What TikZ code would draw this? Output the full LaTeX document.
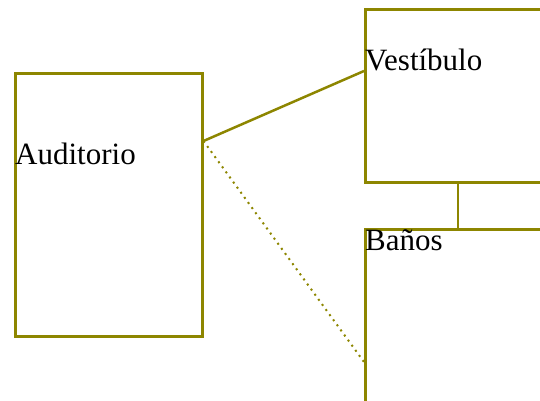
\documentclass[tikz,border=0pt]{standalone}
\usepackage{fontspec}
\setmainfont{Liberation Serif}
\begin{document}
\begin{tikzpicture}[x=1pt,y=-1pt,
  room/.style={draw=olive, line width=2.5pt, rectangle, inner sep=0pt, anchor=north west},
  lbl/.style={anchor=base west, inner sep=0pt, font=\fontsize{31}{33}\selectfont},
  conn/.style={draw=olive, line width=2.5pt},
  dotconn/.style={draw=olive, line width=2pt, dash pattern=on 2pt off 4.3pt}]
\useasboundingbox (0,0) rectangle (540,400);
\clip (0,0) rectangle (540,400);
\node[room, minimum width=187pt, minimum height=263pt] (aud) at (14,72) {};
\node[room, minimum width=200pt, minimum height=173pt] (ves) at (364,8) {};
\node[room, minimum width=200pt, minimum height=200pt] (ban) at (364,228) {};
\node[lbl] (audt) at (15,164) {Auditorio};
\node[lbl] (vest) at (365,70) {Vestíbulo};
\node[lbl] (bant) at (365,250) {Baños};
\draw[conn] ([yshift=-69pt]aud.north east) -- ([yshift=-63pt]ves.north west);
\draw[dotconn] ([yshift=-69pt]aud.north east) -- ([yshift=-134pt]ban.north west);
\draw[conn] ([xshift=94pt]ves.south west) -- ([xshift=94pt]ban.north west);
\end{tikzpicture}
\end{document}
